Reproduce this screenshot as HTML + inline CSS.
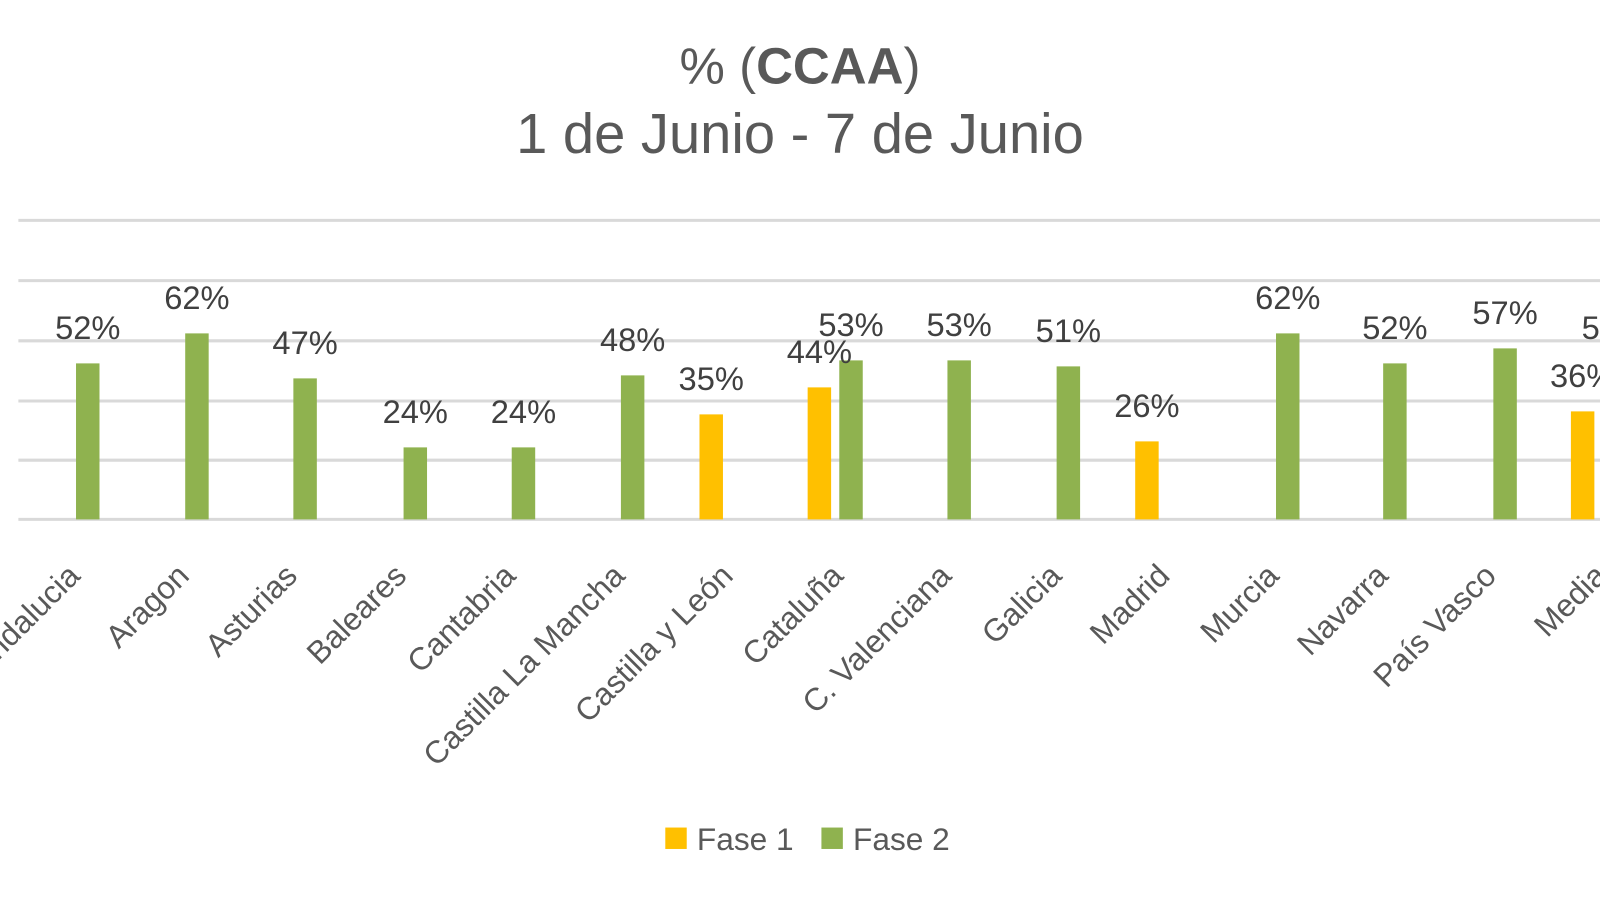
<!DOCTYPE html>
<html><head><meta charset="utf-8"><style>
html,body{margin:0;padding:0;background:#fff;width:1600px;height:900px;overflow:hidden}
svg text{font-family:"Liberation Sans",sans-serif}
</style></head><body>
<svg width="1600" height="900" viewBox="0 0 1600 900" xmlns="http://www.w3.org/2000/svg">
<g transform="scale(1.0204)">
<text x="784" y="82" text-anchor="middle" font-size="50" fill="#595959">% (<tspan font-weight="bold">CCAA</tspan>)</text>
<text x="784" y="150" text-anchor="middle" font-size="55" fill="#595959">1 de Junio - 7 de Junio</text>
<g stroke="#d9d9d9" stroke-width="3">
<line x1="18" y1="216" x2="1600" y2="216"/>
<line x1="18" y1="275" x2="1600" y2="275"/>
<line x1="18" y1="334" x2="1600" y2="334"/>
<line x1="18" y1="393" x2="1600" y2="393"/>
<line x1="18" y1="451" x2="1600" y2="451"/>
<line x1="18" y1="509" x2="1600" y2="509"/>
</g>
<g id="bars"></g>
<g id="lbl" font-size="32" fill="#404040" text-anchor="middle"></g>
<g id="cat" font-size="31" fill="#595959" text-anchor="end"></g>
<rect x="652" y="811" width="21" height="21" fill="#ffc000"/>
<text x="683" y="833" font-size="31" fill="#595959">Fase 1</text>
<rect x="805" y="811" width="21" height="21" fill="#8fb24f"/>
<text x="836" y="833" font-size="31" fill="#595959">Fase 2</text>
</g>
<script>
var ns="http://www.w3.org/2000/svg";
var bars=[[86,52,0],[193,62,0],[299,47,0],[407,24,0],[513,24,0],[620,48,0],[697,35,1],[803,44,1],[834,53,0],[940,53,0],[1047,51,0],[1124,26,1],[1262,62,0],[1367,52,0],[1475,57,0],[1551,36,1],[1582,52,0]];
var g=document.getElementById('bars'),l=document.getElementById('lbl');
bars.forEach(function(b){var h=b[1]*2.94;var r=document.createElementNS(ns,'rect');
r.setAttribute('x',b[0]-11.5);r.setAttribute('y',509-h);r.setAttribute('width',23);r.setAttribute('height',h);
r.setAttribute('fill',b[2]?'#ffc000':'#8fb24f');g.appendChild(r);
var t=document.createElementNS(ns,'text');t.setAttribute('x',b[0]);t.setAttribute('y',509-h-24);t.textContent=b[1]+'%';l.appendChild(t);});
var cats=[[80,'Andalucia'],[187,'Aragon'],[293,'Asturias'],[400,'Baleares'],[507,'Cantabria'],[614,'Castilla La Mancha'],[720,'Castilla y León'],[828,'Cataluña'],[934,'C. Valenciana'],[1042,'Galicia'],[1148,'Madrid'],[1255,'Murcia'],[1362,'Navarra'],[1468,'País Vasco'],[1576,'Media']];
var c=document.getElementById('cat');
cats.forEach(function(k){var t=document.createElementNS(ns,'text');t.setAttribute('transform','translate('+k[0]+',566) rotate(-45)');t.textContent=k[1];c.appendChild(t);});
</script>
</svg>
</body></html>
